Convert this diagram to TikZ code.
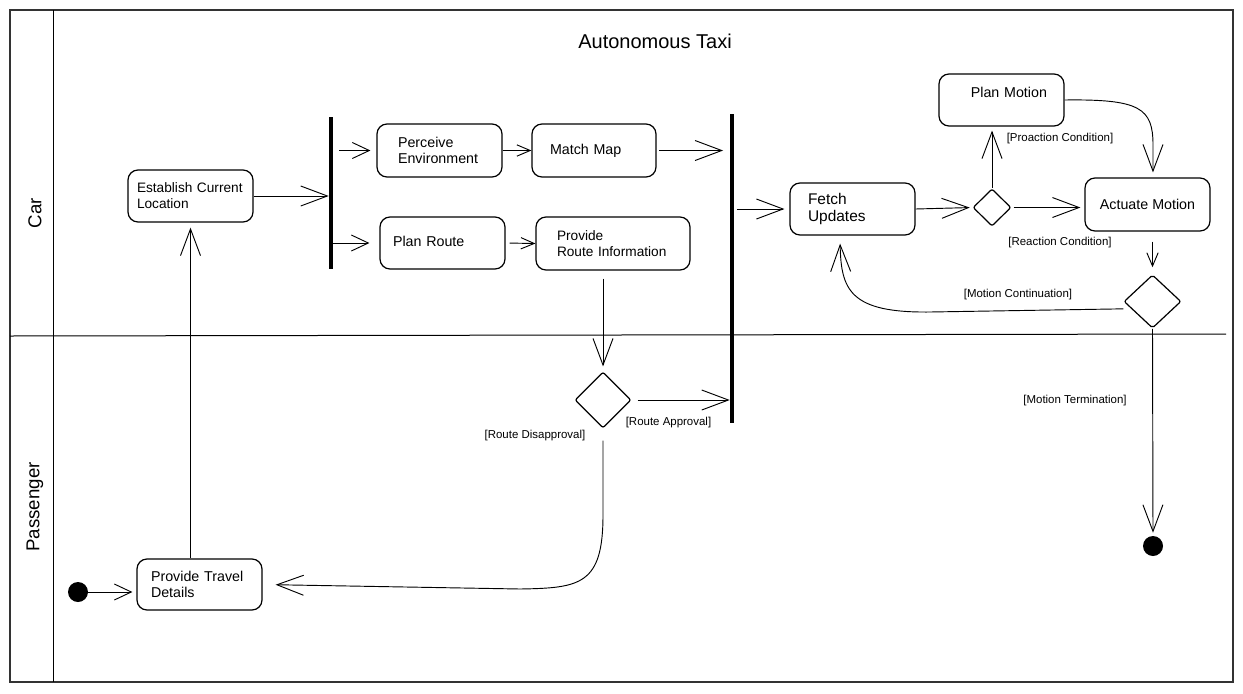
\documentclass[tikz,border=0pt]{standalone}
\usepackage{fontspec}
\setmainfont{Liberation Sans}
\usetikzlibrary{arrows.meta,shapes.geometric}
\tikzset{
  bigtip/.tip={Straight Barb[length=20pt,width=15pt]},
  medtip/.tip={Straight Barb[length=12.75pt,width=12pt]},
  smalltip/.tip={Straight Barb[length=10pt,width=8.5pt]},
}
\begin{document}
\begin{tikzpicture}[x=0.75pt,y=-0.75pt,
  act/.style={draw, rounded corners=7.5pt, line width=0.9pt, inner ysep=0pt, align=left,
              font=\fontsize{10.7}{12}\selectfont},
  dia/.style={draw, diamond, line width=0.9pt, inner sep=0pt, rounded corners=1.5pt},
  bar/.style={fill=black, rectangle, inner sep=0pt, minimum width=3pt},
  dot/.style={fill=black, circle, inner sep=0pt, minimum size=15pt},
  con/.style={line width=0.7pt},
  lbl/.style={font=\fontsize{8.6}{10}\selectfont, inner sep=0pt},
  lane/.style={font=\fontsize{14}{16}\selectfont, rotate=90, inner sep=0pt},
]
\useasboundingbox (0,0) rectangle (1243,693);
% frame and lanes
\draw[line width=1pt, black!80] (10,10) rectangle (1233,682);
\draw[line width=0.75pt] (53,10) -- (53,682);
\draw[line width=0.75pt] (10,336) -- (1226,334);
\node[lane] (carlane) at (35,213) {Car};
\node[lane] (paslane) at (35,507) {Passenger};
\node[font=\fontsize{15}{18}\selectfont, inner sep=0pt] (title) at (655,41) {Autonomous Taxi};

% activities
\node[act, font=\fontsize{10.25}{12}\selectfont, text width=80.25pt, inner xsep=6.75pt, minimum height=39pt]
  (est) at (190.5,196) {Establish Current\\Location};
\node[act, text width=62.25pt, inner xsep=15.75pt, minimum height=39.75pt]
  (per) at (439.5,150.5) {Perceive\\Environment};
\node[act, text width=66pt, inner xsep=13.5pt, minimum height=39.75pt]
  (mm) at (594,150.5) {\raisebox{-1pt}{Match Map}};
\node[act, text width=74.25pt, inner xsep=9.75pt, minimum height=39pt]
  (pr) at (442.5,243) {\raisebox{3pt}{Plan Route}};
\node[act, font=\fontsize{10.25}{12}\selectfont, text width=84pt, inner xsep=15.75pt, minimum height=39.75pt]
  (pri) at (613,243.5) {Provide\\Route Information};
\node[act, font=\fontsize{11.6}{12.75}\selectfont, text width=66.75pt, inner xsep=13.5pt, minimum height=39pt]
  (fetch) at (852.5,209) {Fetch\\Updates};
\node[act, align=right, text width=68.25pt, inner xsep=12.75pt, minimum height=39pt]
  (pm) at (1001.5,100) {Plan Motion\\\mbox{}};
\node[act, align=center, minimum width=93.75pt, minimum height=39.75pt]
  (act) at (1147.5,204.5) {Actuate Motion};
\node[act, text width=72.75pt, inner xsep=10.5pt, minimum height=38.25pt]
  (ptd) at (199.5,584.5) {Provide Travel\\Details};

% bars, decisions, start/end
\node[bar, minimum height=114pt] (bar1) at (331,193) {};
\node[bar, minimum height=231.75pt] (bar2) at (732,268.5) {};
\node[dia, minimum width=42pt, minimum height=42pt] (d1) at (603,400) {};
\node[dia, minimum width=28.5pt, minimum height=28pt] (d2) at (992,207.5) {};
\node[dia, minimum width=42.75pt, minimum height=40pt] (d3) at (1152.5,301.5) {};
\node[dot] (start) at (78,592) {};
\node[dot] (final) at (1153,546) {};

% connectors
\draw[con,-bigtip] (est.east) -- (est.east -| bar1.west);
\draw[con,-medtip,shorten <=4.5pt,shorten >=4.5pt] (bar1.east |- per.west) -- (per.west);
\draw[con,-medtip,shorten >=7.5pt] (bar1.east |- pr.west) -- (pr.west);
\draw[con,-smalltip] (per.east) -- (mm.west);
\draw[con,-bigtip,shorten <=2pt,shorten >=5pt] (mm.east) -- (mm.east -| bar2.west);
\draw[con,-smalltip,shorten <=3pt] (pr.east) -- (pri.west);
\draw[con,-bigtip,shorten <=6pt,shorten >=3.75pt] (d1.north |- pri.south) -- (d1.north);
\draw[con,-bigtip,shorten <=4.5pt] (d1.east) -- (d1.east -| bar2.west);
\draw[con,-bigtip,shorten >=9.75pt] (d1.south) ++(0,12) -- (603,515)
  .. controls (603,585) and (580,588) .. (520,589) -- (ptd.east);
\draw[con,-bigtip,shorten >=3.75pt] (est.south |- ptd.north) -- (est.south);
\draw[con,-medtip,shorten >=3pt] (start.east) -- (start.east -| ptd.west);
\draw[con,-bigtip,shorten <=2pt,shorten >=3.75pt] (bar2.east |- fetch.west) -- (fetch.west);
\draw[con,-bigtip,shorten >=2pt] (fetch.east) -- (d2.west);
\draw[con,-bigtip,shorten <=1.5pt,shorten >=3pt] (d2.east) -- (d2.east -| act.west);
\draw[con,-bigtip,shorten >=3pt] (d2.north) -- (d2.north |- pm.south);
\draw[con,-bigtip,shorten >=3.75pt] (pm.east) .. controls (1140,99) and (1153,108) .. (1153,145)
  -- ([xshift=4.1pt]act.north);
\draw[con,-smalltip,shorten <=7.5pt,shorten >=5.25pt] (act.south -| d3.north) -- (d3.north);
\draw[con,-bigtip,shorten >=6pt] ([yshift=-5.5pt]d3.west) -- (930,312)
  .. controls (850,313) and (841,290) .. ([xshift=-9.4pt]fetch.south);
\draw[con,-bigtip,shorten >=2.25pt] (d3.south) -- (final.north);

% guard labels
\node[lbl] (lproa) at (1060,139) {[Proaction Condition]};
\node[lbl] (lreac) at (1060,243) {[Reaction Condition]};
\node[lbl] (lcont) at (1018,295) {[Motion Continuation]};
\node[lbl] (lterm) at (1075,401) {[Motion Termination]};
\node[lbl] (lappr) at (668.5,423) {[Route Approval]};
\node[lbl] (ldisa) at (535,436) {[Route Disapproval]};
\end{tikzpicture}
\end{document}
